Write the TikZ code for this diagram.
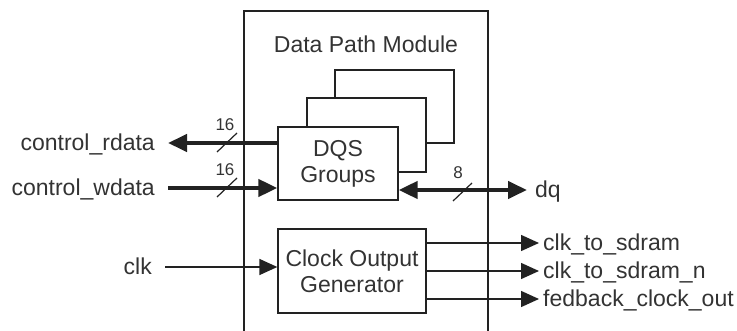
\documentclass[tikz,border=0pt]{standalone}
\usepackage{fontspec}
\setmainfont{Liberation Sans}
\usetikzlibrary{arrows.meta}
\definecolor{ink}{HTML}{222222}
\definecolor{txt}{HTML}{333333}
\tikzset{
  every node/.style={font=\fontsize{23}{26}\selectfont, text=txt},
  blk/.style={draw=ink, line width=1.3pt, fill=white, inner sep=0pt, align=center},
  thin/.style={draw=ink, line width=1.4pt, -{Triangle[length=18pt,width=16pt]}},
  thick/.style={draw=ink, line width=4.2pt, -{Triangle[length=19pt,width=17pt]}},
  thickboth/.style={draw=ink, line width=4.2pt, {Triangle[length=19pt,width=17pt]}-{Triangle[length=19pt,width=17pt]}},
  slashmark/.style={draw=ink, line width=1.2pt},
  buslabel/.style={font=\fontsize{17}{19}\selectfont, inner sep=0pt},
  lbl/.style={inner sep=0pt}
}
\begin{document}
\begin{tikzpicture}[x=1pt,y=-1pt]
\useasboundingbox (0,0) rectangle (737,331);
% module outline
\draw[ink, line width=1.3pt] (244,331) -- (244,11) -- (488,11) -- (488,331);
\node[lbl] (title) at (366,44) {Data Path Module};
% stacked DQS boxes
\node[blk, minimum width=119pt, minimum height=73pt] (back) at (394.5,106.5) {};
\node[blk, minimum width=119pt, minimum height=74pt] (mid) at (366.5,135) {};
\node[blk, minimum width=120pt, minimum height=73pt] (dqs) at (338,163.5) {DQS\\Groups};
% clock output generator
\node[blk, minimum width=148pt, minimum height=84pt] (clkgen) at (352,271) {Clock Output\\Generator};
% endpoints
\coordinate (rd) at (168,143);
\coordinate (wd) at (168,188);
\coordinate (dqe) at (527,190);
\coordinate (clkin) at (165,267);
\coordinate (o1) at (539,243);
\coordinate (o2) at (539,271);
\coordinate (o3) at (539,299);
% bus arrows
\draw[thick] (dqs.west |- rd) -- (rd);
\draw[thick] (wd) -- (dqs.west |- wd);
\draw[thickboth] (dqs.east |- dqe) -- (dqe);
% bus slashes
\draw[slashmark] (217,152) -- (237,133);
\draw[slashmark] (217,197) -- (237,178);
\draw[slashmark] (453,201) -- (472,183);
\node[buslabel] (w1) at (225,125) {16};
\node[buslabel] (w2) at (225,170) {16};
\node[buslabel] (w3) at (458,173) {8};
% clock arrows
\draw[thin] (clkin) -- (clkgen.west |- clkin);
\draw[thin] (clkgen.east |- o1) -- (o1);
\draw[thin] (clkgen.east |- o2) -- (o2);
\draw[thin] (clkgen.east |- o3) -- (o3);
% labels
\node[lbl, anchor=base east] (lrd) at (155,151) {control\_rdata};
\node[lbl, anchor=base east] (lwd) at (155,196) {control\_wdata};
\node[lbl, anchor=base east] (lclk) at (152,275) {clk};
\node[lbl, anchor=base west] (ldq) at (535,198) {dq};
\node[lbl, anchor=base west] (lo1) at (543,251) {clk\_to\_sdram};
\node[lbl, anchor=base west] (lo2) at (543,279) {clk\_to\_sdram\_n};
\node[lbl, anchor=base west] (lo3) at (543,307) {fedback\_clock\_out};
\end{tikzpicture}
\end{document}
